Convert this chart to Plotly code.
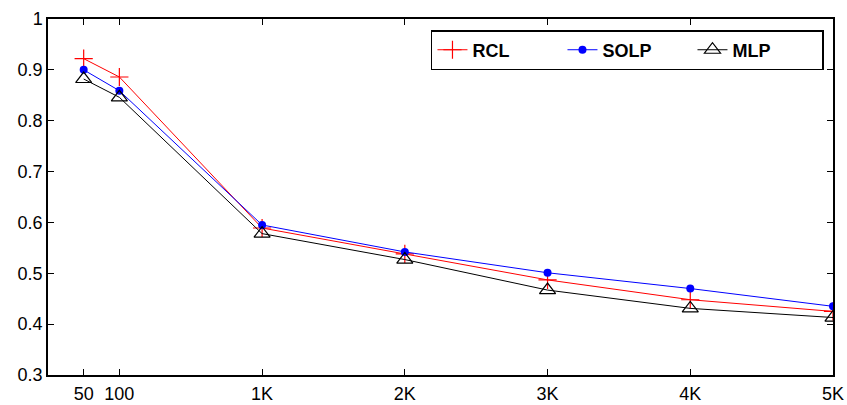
import plotly.graph_objects as go

# Data
categories = ["50", "100", "1K", "2K", "3K", "4K", "5K"]
x_positions = [-0.25, 0, 1, 2, 3, 4, 5]
rcl = [0.922, 0.886, 0.589, 0.538, 0.487, 0.448, 0.425]
solp = [0.900, 0.859, 0.595, 0.542, 0.501, 0.470, 0.435]
mlp = [0.882, 0.846, 0.578, 0.527, 0.467, 0.431, 0.413]
y_ticks = [0.3, 0.4, 0.5, 0.6, 0.7, 0.8, 0.9, 1]
y_tick_labels = ["0.3", "0.4", "0.5", "0.6", "0.7", "0.8", "0.9", "1"]

FONT = "Liberation Sans, Arial, sans-serif"

fig = go.Figure()
fig.add_trace(go.Scatter(
    x=x_positions, y=rcl, name="RCL", mode="lines+markers",
    line=dict(color="#ff0000", width=1),
    marker=dict(symbol="cross-thin-open", size=13, color="#ff0000",
                line=dict(color="#ff0000", width=1.2)),
))
fig.add_trace(go.Scatter(
    x=x_positions, y=solp, name="SOLP", mode="lines+markers",
    line=dict(color="#0000ff", width=1),
    marker=dict(symbol="circle", size=8, color="#0000ff"),
))
fig.add_trace(go.Scatter(
    x=x_positions, y=mlp, name="MLP", mode="lines+markers",
    line=dict(color="#000000", width=1),
    marker=dict(symbol="triangle-up-open", size=14, color="#000000",
                line=dict(color="#000000", width=1.2)),
))

axis_common = dict(
    showline=True, linecolor="black", linewidth=1.5, mirror="ticks",
    ticks="inside", ticklen=6, tickwidth=1, tickcolor="black",
    showgrid=False, zeroline=False, automargin=False,
    tickfont=dict(family=FONT, size=18, color="black"),
)

fig.update_xaxes(
    range=[-0.5, 5], tickmode="array", tickvals=x_positions, ticktext=categories,
    ticklabelstandoff=2,
    **axis_common,
)
fig.update_yaxes(
    range=[0.3, 1], tickmode="array", tickvals=y_ticks, ticktext=y_tick_labels,
    **axis_common,
)

fig.update_layout(
    width=847, height=405,
    margin=dict(l=48, r=14, t=19, b=30),
    paper_bgcolor="white", plot_bgcolor="white",
    font=dict(family=FONT, size=18, color="black"),
    legend=dict(
        orientation="h", x=0.9885, xanchor="right", y=0.969, yanchor="top",
        bgcolor="white", bordercolor="black", borderwidth=1.5,
        font=dict(family=FONT, size=18, color="black", weight="bold"),
        itemwidth=30, entrywidth=85, entrywidthmode="pixels",
    ),
)

fig.write_html("out.html")
